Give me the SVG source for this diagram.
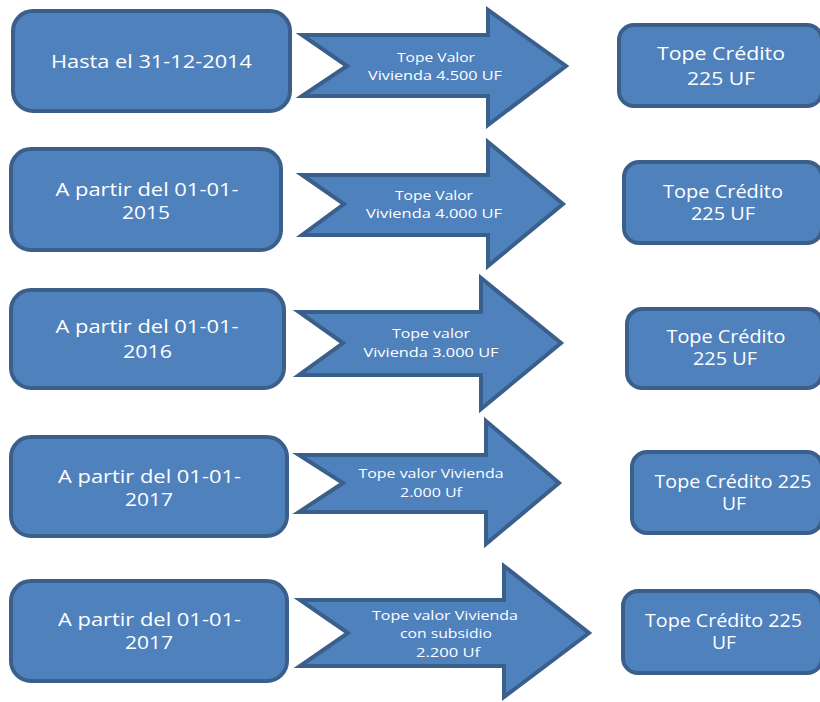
<svg xmlns="http://www.w3.org/2000/svg" width="820" height="702" viewBox="0 0 820 702">
<style>
.box{fill:#4F81BD;stroke:#3A5F8B;stroke-width:4}
.arr{fill:#4F81BD;stroke:#3A5F8B;stroke-width:4;stroke-linejoin:miter}
.t{font-family:"Open Sans","Liberation Sans",sans-serif;fill:#FFFFFF;text-anchor:middle}
.big{font-size:18px}
.sm{font-size:13.5px}
</style>
<rect width="820" height="702" fill="#FFFFFF"/>
<g id="connectors">
<g id="arrow1"><path class="arr" d="M302,35 L488,35 L488,10 L566,66 L488,125 L488,96 L302,96 L347,66 Z"/>
<text class="t sm" x="436" y="62" textLength="78" lengthAdjust="spacingAndGlyphs">Tope Valor</text>
<text class="t sm" x="435" y="80" textLength="134" lengthAdjust="spacingAndGlyphs">Vivienda 4.500 UF</text></g>
<g id="arrow2"><path class="arr" d="M302,175 L488,175 L488,142 L563,204 L488,266 L488,235 L302,235 L344,204 Z"/>
<text class="t sm" x="434" y="200" textLength="78" lengthAdjust="spacingAndGlyphs">Tope Valor</text>
<text class="t sm" x="434" y="218" textLength="136" lengthAdjust="spacingAndGlyphs">Vivienda 4.000 UF</text></g>
<g id="arrow3"><path class="arr" d="M299,312 L481,312 L481,278 L561,343 L481,409 L481,375 L299,375 L343,343 Z"/>
<text class="t sm" x="431" y="338" textLength="78" lengthAdjust="spacingAndGlyphs">Tope valor</text>
<text class="t sm" x="431" y="357" textLength="135" lengthAdjust="spacingAndGlyphs">Vivienda 3.000 UF</text></g>
<g id="arrow4"><path class="arr" d="M299,455 L486,455 L486,421 L559,483 L486,544 L486,512 L299,512 L343,483 Z"/>
<text class="t sm" x="431" y="478" textLength="145" lengthAdjust="spacingAndGlyphs">Tope valor Vivienda</text>
<text class="t sm" x="431" y="497" textLength="62" lengthAdjust="spacingAndGlyphs">2.000 Uf</text></g>
<g id="arrow5"><path class="arr" d="M300,600 L504,600 L504,566 L589,633 L504,697 L504,666 L300,666 L348,633 Z"/>
<text class="t sm" x="445" y="620" textLength="146" lengthAdjust="spacingAndGlyphs">Tope valor Vivienda</text>
<text class="t sm" x="446" y="638" textLength="92" lengthAdjust="spacingAndGlyphs">con subsidio</text>
<text class="t sm" x="448" y="657" textLength="64" lengthAdjust="spacingAndGlyphs">2.200 Uf</text></g>
</g>
<g id="left1"><rect class="box" x="13" y="11" width="277" height="100" rx="20"/>
<text class="t big" x="151.5" y="68" textLength="201" lengthAdjust="spacingAndGlyphs">Hasta el 31-12-2014</text></g>
<g id="left2"><rect class="box" x="11" y="149" width="270" height="101" rx="20"/>
<text class="t big" x="147" y="196" textLength="183" lengthAdjust="spacingAndGlyphs">A partir del 01-01-</text>
<text class="t big" x="146" y="219" textLength="48" lengthAdjust="spacingAndGlyphs">2015</text></g>
<g id="left3"><rect class="box" x="11" y="290" width="273" height="98" rx="20"/>
<text class="t big" x="147" y="333" textLength="183" lengthAdjust="spacingAndGlyphs">A partir del 01-01-</text>
<text class="t big" x="147.5" y="358" textLength="49" lengthAdjust="spacingAndGlyphs">2016</text></g>
<g id="left4"><rect class="box" x="11" y="437" width="276" height="99" rx="20"/>
<text class="t big" x="149.5" y="483" textLength="183" lengthAdjust="spacingAndGlyphs">A partir del 01-01-</text>
<text class="t big" x="149" y="506" textLength="48" lengthAdjust="spacingAndGlyphs">2017</text></g>
<g id="left5"><rect class="box" x="11" y="581" width="276" height="100" rx="20"/>
<text class="t big" x="149.5" y="626" textLength="183" lengthAdjust="spacingAndGlyphs">A partir del 01-01-</text>
<text class="t big" x="149" y="649" textLength="48" lengthAdjust="spacingAndGlyphs">2017</text></g>
<g id="right1"><rect class="box" x="619" y="25" width="203" height="81" rx="15"/>
<text class="t big" x="721" y="60" textLength="128" lengthAdjust="spacingAndGlyphs">Tope Crédito</text>
<text class="t big" x="721" y="85" textLength="68" lengthAdjust="spacingAndGlyphs">225 UF</text></g>
<g id="right2"><rect class="box" x="624" y="162" width="198" height="81" rx="15"/>
<text class="t big" x="723" y="198" textLength="120" lengthAdjust="spacingAndGlyphs">Tope Crédito</text>
<text class="t big" x="723" y="220" textLength="64" lengthAdjust="spacingAndGlyphs">225 UF</text></g>
<g id="right3"><rect class="box" x="627" y="309" width="195" height="79" rx="15"/>
<text class="t big" x="726" y="343" textLength="119" lengthAdjust="spacingAndGlyphs">Tope Crédito</text>
<text class="t big" x="725" y="365" textLength="64" lengthAdjust="spacingAndGlyphs">225 UF</text></g>
<g id="right4"><rect class="box" x="632" y="452" width="190" height="81" rx="15"/>
<text class="t big" x="733" y="488" textLength="157" lengthAdjust="spacingAndGlyphs">Tope Crédito 225</text>
<text class="t big" x="734" y="510" textLength="24" lengthAdjust="spacingAndGlyphs">UF</text></g>
<g id="right5"><rect class="box" x="623" y="591" width="199" height="82" rx="15"/>
<text class="t big" x="723.5" y="627" textLength="157" lengthAdjust="spacingAndGlyphs">Tope Crédito 225</text>
<text class="t big" x="724" y="649" textLength="24" lengthAdjust="spacingAndGlyphs">UF</text></g>
</svg>
